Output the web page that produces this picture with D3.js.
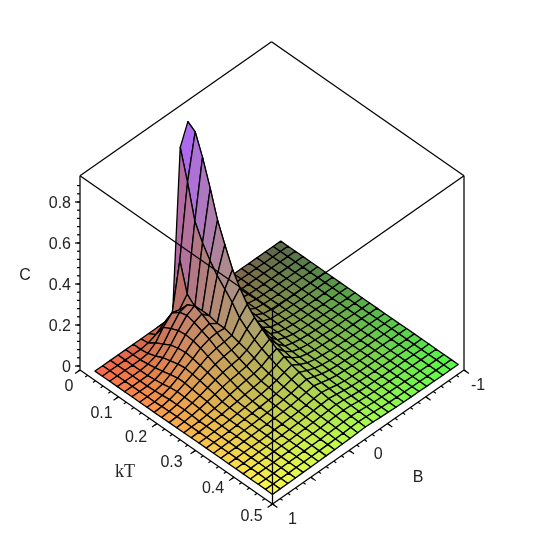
<!DOCTYPE html>
<html>
<head>
<meta charset="utf-8">
<script src="https://cdnjs.cloudflare.com/ajax/libs/d3/7.8.5/d3.min.js"></script>
<style>
html, body { margin: 0; background: #fff; }
text { fill: #222; font-family: "Liberation Sans", sans-serif; font-size: 16px; text-anchor: middle; }
.serif { font-family: "Liberation Serif", serif; font-size: 18px; }
</style>
</head>
<body>
<svg width="545" height="545"></svg>
<script>
// sample points of the surface
const kTGrid = [0.029, 0.048, 0.067, 0.087, 0.106, 0.125, 0.145, 0.164, 0.183, 0.202, 0.222, 0.241, 0.260,
    0.279, 0.299, 0.318, 0.337, 0.356, 0.376, 0.395, 0.414, 0.433, 0.453, 0.472, 0.490];
const bGrid = [0.96, 0.88, 0.80, 0.72, 0.64, 0.56, 0.48, 0.40, 0.31, 0.23, 0.15, 0.07, -0.01,
    -0.09, -0.17, -0.25, -0.33, -0.41, -0.49, -0.57, -0.65, -0.73, -0.82, -0.90, -0.98];

// C per kT row, B>0 side: from the centre line (column 0) out to the B=1 edge (column 12)
const cRows = [
    [0.900, 0.800, 0.010, 0, 0, 0, 0, 0, 0, 0, 0, 0, 0],
    [0.875, 0.655, 0.300, 0.070, 0.050, 0.020, 0.005, 0, 0, 0, 0, 0, 0],
    [0.775, 0.490, 0.160, 0.110, 0.120, 0.080, 0.030, 0.005, 0, 0, 0, 0, 0],
    [0.650, 0.410, 0.125, 0.160, 0.150, 0.100, 0.050, 0.018, 0.005, 0, 0, 0, 0],
    [0.520, 0.350, 0.130, 0.180, 0.160, 0.115, 0.070, 0.035, 0.012, 0, 0, 0, 0],
    [0.425, 0.300, 0.130, 0.165, 0.150, 0.120, 0.080, 0.045, 0.020, 0.005, 0, 0, 0],
    [0.330, 0.260, 0.120, 0.145, 0.135, 0.115, 0.085, 0.055, 0.030, 0.010, 0.002, 0, 0],
    [0.265, 0.220, 0.120, 0.125, 0.120, 0.105, 0.080, 0.060, 0.038, 0.018, 0.006, 0, 0],
    [0.210, 0.170, 0.110, 0.105, 0.100, 0.090, 0.072, 0.055, 0.038, 0.022, 0.010, 0.002, 0],
    [0.170, 0.140, 0.100, 0.090, 0.085, 0.075, 0.062, 0.048, 0.033, 0.020, 0.010, 0.003, 0],
    [0.140, 0.115, 0.090, 0.075, 0.070, 0.062, 0.052, 0.040, 0.028, 0.018, 0.010, 0.004, 0.001],
    [0.115, 0.095, 0.075, 0.062, 0.056, 0.050, 0.042, 0.032, 0.023, 0.015, 0.008, 0.004, 0.001],
    [0.095, 0.080, 0.060, 0.050, 0.045, 0.038, 0.030, 0.022, 0.015, 0.009, 0.005, 0.003, 0.001],
    [0.080, 0.065, 0.050, 0.040, 0.034, 0.028, 0.022, 0.017, 0.012, 0.008, 0.005, 0.003, 0.002],
    [0.065, 0.055, 0.042, 0.034, 0.028, 0.023, 0.018, 0.014, 0.010, 0.007, 0.005, 0.003, 0.002],
    [0.055, 0.046, 0.036, 0.028, 0.023, 0.019, 0.015, 0.012, 0.009, 0.006, 0.004, 0.003, 0.002],
    [0.045, 0.038, 0.030, 0.024, 0.020, 0.016, 0.013, 0.010, 0.008, 0.006, 0.004, 0.003, 0.002],
    [0.038, 0.032, 0.026, 0.020, 0.017, 0.014, 0.011, 0.009, 0.007, 0.005, 0.004, 0.003, 0.002],
    [0.032, 0.028, 0.022, 0.018, 0.015, 0.012, 0.010, 0.008, 0.006, 0.005, 0.004, 0.003, 0.002],
    [0.027, 0.024, 0.020, 0.016, 0.013, 0.011, 0.009, 0.007, 0.006, 0.005, 0.004, 0.003, 0.002],
    [0.023, 0.020, 0.017, 0.014, 0.012, 0.010, 0.008, 0.007, 0.006, 0.005, 0.004, 0.003, 0.002],
    [0.020, 0.018, 0.015, 0.012, 0.010, 0.009, 0.007, 0.006, 0.005, 0.004, 0.003, 0.003, 0.002],
    [0.017, 0.015, 0.013, 0.011, 0.009, 0.008, 0.007, 0.006, 0.005, 0.004, 0.003, 0.002, 0.002],
    [0.015, 0.013, 0.011, 0.009, 0.008, 0.007, 0.006, 0.005, 0.004, 0.003, 0.003, 0.002, 0.002],
    [0.013, 0.011, 0.009, 0.008, 0.007, 0.006, 0.005, 0.004, 0.004, 0.003, 0.002, 0.002, 0.001]
];

// same for the B<0 side, going from next to the centre line out to B=-1. mesh is much flatter here
const cBackRows = [
    [0.800, 0.010, 0, 0, 0, 0, 0, 0, 0, 0, 0, 0],
    [0.600, 0.100, 0.020, 0.005, 0, 0, 0, 0, 0, 0, 0, 0],
    [0.450, 0.080, 0.030, 0.008, 0, 0, 0, 0, 0, 0, 0, 0],
    [0.350, 0.080, 0.030, 0.010, 0.002, 0, 0, 0, 0, 0, 0, 0],
    [0.280, 0.080, 0.030, 0.010, 0.003, 0, 0, 0, 0, 0, 0, 0],
    [0.220, 0.070, 0.030, 0.010, 0.004, 0.001, 0, 0, 0, 0, 0, 0],
    [0.170, 0.060, 0.030, 0.010, 0.004, 0.002, 0, 0, 0, 0, 0, 0],
    [0.140, 0.050, 0.025, 0.010, 0.005, 0.002, 0.001, 0, 0, 0, 0, 0],
    [0.110, 0.045, 0.020, 0.010, 0.005, 0.002, 0.001, 0, 0, 0, 0, 0],
    [0.090, 0.040, 0.020, 0.010, 0.005, 0.003, 0.001, 0.001, 0, 0, 0, 0],
    [0.075, 0.035, 0.020, 0.010, 0.006, 0.003, 0.002, 0.001, 0, 0, 0, 0],
    [0.065, 0.030, 0.018, 0.010, 0.006, 0.003, 0.002, 0.001, 0.001, 0, 0, 0],
    [0.055, 0.028, 0.016, 0.009, 0.006, 0.004, 0.002, 0.001, 0.001, 0, 0, 0],
    [0.048, 0.026, 0.015, 0.009, 0.006, 0.004, 0.002, 0.001, 0.001, 0.001, 0, 0],
    [0.042, 0.024, 0.014, 0.009, 0.006, 0.004, 0.003, 0.002, 0.001, 0.001, 0, 0],
    [0.037, 0.022, 0.013, 0.008, 0.006, 0.004, 0.003, 0.002, 0.001, 0.001, 0.001, 0],
    [0.032, 0.020, 0.012, 0.008, 0.006, 0.004, 0.003, 0.002, 0.002, 0.001, 0.001, 0],
    [0.028, 0.018, 0.011, 0.008, 0.006, 0.004, 0.003, 0.002, 0.002, 0.001, 0.001, 0.001],
    [0.025, 0.016, 0.010, 0.007, 0.005, 0.004, 0.003, 0.002, 0.002, 0.001, 0.001, 0.001],
    [0.022, 0.015, 0.010, 0.007, 0.005, 0.004, 0.003, 0.002, 0.002, 0.001, 0.001, 0.001],
    [0.019, 0.013, 0.009, 0.006, 0.005, 0.004, 0.003, 0.002, 0.002, 0.001, 0.001, 0.001],
    [0.017, 0.012, 0.008, 0.006, 0.005, 0.004, 0.003, 0.002, 0.002, 0.001, 0.001, 0.001],
    [0.015, 0.011, 0.008, 0.006, 0.005, 0.004, 0.003, 0.002, 0.002, 0.001, 0.001, 0.001],
    [0.013, 0.010, 0.007, 0.005, 0.004, 0.003, 0.003, 0.002, 0.002, 0.001, 0.001, 0.001],
    [0.011, 0.009, 0.007, 0.005, 0.004, 0.003, 0.003, 0.002, 0.002, 0.001, 0.001, 0.001]
];

const kTTicks = [0, 0.1, 0.2, 0.3, 0.4, 0.5];
const kTMinorTicks = d3.range(0, 0.5001, 0.02);
const bTicks = [1, 0.6, 0.2, -0.2, -0.6, -1];
const bMinorTicks = d3.range(-1, 1.0001, 0.08);
const bLabels = [1, 0, -1];
const cTicks = [0, 0.2, 0.4, 0.6, 0.8];
const cMinorTicks = d3.range(0, 0.9001, 0.04);

let svg = d3.select('svg'),
    g = svg.append('g').attr('filter', 'url(#soft)');

svg.append('defs').append('filter').attr('id', 'soft')
    .append('feGaussianBlur').attr('stdDeviation', 0.3);

// oblique box: kT runs down-right, B runs up-right, C straight up
let kTPos = d3.scaleLinear().domain([0, 0.5]).range([0, 1]),
    bPos = d3.scaleLinear().domain([1, -1]).range([0, 1]),
    cPos = d3.scaleLinear().domain([0, 1]).range([0, 205]),
    red = d3.scaleLinear().domain([1, -1]).range([255, 85]),
    green = d3.scaleLinear().domain([0, 0.5]).range([95, 255]),
    blue = d3.scaleLinear().domain([0, 0.9]).range([75, 255]);

function project(kT, b, c) {
    let u = kTPos(kT), v = bPos(b);
    return [80 + 192.5 * u + 191.5 * v, 366 + 134 * u - 134 * v - cPos(c)];
}

// corners of the box floor are 4px under C=0
function floor(kT, b) {
    let p = project(kT, b, 0);
    return [p[0], p[1] + 4];
}

let cAt = (i, j) => j <= 12 ? cRows[i][12 - j] : cBackRows[i][j - 13];
let path = d3.line();

function surface() {
    let cells = [];
    for (let i = 0; i < kTGrid.length - 1; i++) {
        for (let j = 0; j < bGrid.length - 1; j++) {
            cells.push({i: i, j: j, depth: kTPos(kTGrid[i]) - bPos(bGrid[j])});
        }
    }
    cells.sort((a, b) => d3.ascending(a.depth, b.depth));

    g.append('g').selectAll('path').data(cells).enter().append('path')
        .attr('d', d => path([[d.i, d.j], [d.i + 1, d.j], [d.i + 1, d.j + 1], [d.i, d.j + 1]]
            .map(e => project(kTGrid[e[0]], bGrid[e[1]], cAt(e[0], e[1])))) + 'Z')
        .attr('fill', d => d3.rgb(
            red((bGrid[d.j] + bGrid[d.j + 1]) / 2),
            green((kTGrid[d.i] + kTGrid[d.i + 1]) / 2),
            blue((cAt(d.i, d.j) + cAt(d.i + 1, d.j) + cAt(d.i + 1, d.j + 1) + cAt(d.i, d.j + 1)) / 4)))
        .attr('stroke', '#000')
        .attr('stroke-width', 1.3)
        .attr('stroke-linejoin', 'round');
}

function box() {
    let top = 0.928,
        corners = {
            left: [0, 1], front: [0.5, 1], right: [0.5, -1], back: [0, -1]
        },
        up = k => project(corners[k][0], corners[k][1], top),
        down = k => floor(corners[k][0], corners[k][1]),
        edges = [
            [up('left'), up('back')], [up('back'), up('right')],
            [up('left'), up('front')], [up('front'), up('right')],
            [up('left'), down('left')], [up('right'), down('right')], [up('front'), down('front')],
            [down('left'), down('front')], [down('front'), down('right')]
        ];
    g.append('g').selectAll('path').data(edges).enter().append('path')
        .attr('d', d => path(d))
        .attr('fill', 'none')
        .attr('stroke', '#000')
        .attr('stroke-width', 1.25);
}

function ticks() {
    let t = g.append('g').attr('stroke', '#000').attr('stroke-width', 1.2);
    let kTTick = (d, len) => {
        let p = floor(d, 1);
        t.append('line').attr('x1', p[0]).attr('y1', p[1])
            .attr('x2', p[0] - len * 0.82).attr('y2', p[1] + len * 0.57);
    };
    let bTick = (d, len) => {
        let p = floor(0.5, d);
        t.append('line').attr('x1', p[0]).attr('y1', p[1])
            .attr('x2', p[0] + len * 0.82).attr('y2', p[1] + len * 0.57);
    };
    let cTick = (d, len) => {
        let p = project(0, 1, d);
        t.append('line').attr('x1', p[0]).attr('y1', p[1]).attr('x2', p[0] - len).attr('y2', p[1]);
    };
    kTMinorTicks.forEach(d => kTTick(d, 3));
    kTTicks.forEach(d => kTTick(d, 6));
    bMinorTicks.forEach(d => bTick(d, 3));
    bTicks.forEach(d => bTick(d, 6));
    cMinorTicks.forEach(d => cTick(d, 3));
    cTicks.forEach(d => cTick(d, 5));
}

function labels() {
    let kTNudge = [[-11, 21], [-17, 21], [-21, 18], [-24, 17], [-21, 16], [-21, 17]],
        t = g.append('g');
    t.selectAll('.kt').data(kTTicks).enter().append('text')
        .attr('x', (d, i) => floor(d, 1)[0] + kTNudge[i][0])
        .attr('y', (d, i) => floor(d, 1)[1] + kTNudge[i][1])
        .text(d => d);
    t.selectAll('.c').data(cTicks).enter().append('text')
        .attr('x', 71)
        .attr('y', d => project(0, 1, d)[1] + 6)
        .style('text-anchor', 'end')
        .text(d => d);
    let bNudge = [[20, 20], [10, 22], [14, 20]];
    t.selectAll('.b').data(bLabels).enter().append('text')
        .attr('x', (d, i) => floor(0.5, d)[0] + bNudge[i][0])
        .attr('y', (d, i) => floor(0.5, d)[1] + bNudge[i][1])
        .text(d => d);
    t.append('text').attr('class', 'serif').attr('x', 125).attr('y', 477).text('kT');
    t.append('text').attr('x', 418).attr('y', 482).text('B');
    t.append('text').attr('x', 25).attr('y', 280).text('C');
}

surface();
ticks();
box();
labels();
</script>
</body>
</html>
